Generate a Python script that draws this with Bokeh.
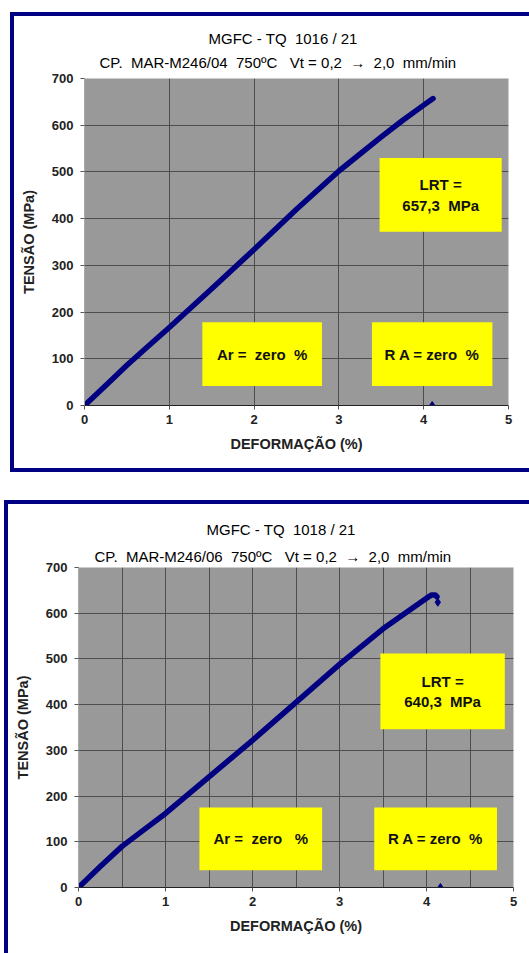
from bokeh.plotting import figure
from bokeh.layouts import column
from bokeh.models import BoxAnnotation, Label, FixedTicker, Range1d, Title
from bokeh.embed import file_html
from bokeh.resources import INLINE

NB = "\u00a0"

# ---------------- data ----------------
# panel 1 : MGFC - TQ 1016/21
title1_a = "MGFC - TQ" + NB + " 1016 / 21"
title1_b = "CP." + NB + " MAR-M246/04" + NB + " 750ºC" + NB + NB + " Vt = 0,2" + NB + " →" + NB + " 2,0" + NB + " mm/min"
strain_1 = [0.0, 0.25, 0.5, 0.75, 1.0, 1.5, 2.0, 2.5, 3.0, 3.5, 3.75, 4.0, 4.11]
stress_1 = [0, 43, 86, 127, 167, 250, 334, 420, 502, 575, 610, 643, 657]
break_1_x = [4.10]
break_1_y = [0]
lrt_1 = ["LRT =", "657,3" + NB + " MPa"]
ar_1 = "Ar =" + NB + " zero" + NB + " %"
ra_1 = "R A = zero" + NB + " %"

# panel 2 : MGFC - TQ 1018/21
title2_a = "MGFC - TQ" + NB + " 1018 / 21"
title2_b = "CP." + NB + " MAR-M246/06" + NB + " 750ºC" + NB + NB + " Vt = 0,2" + NB + " →" + NB + " 2,0" + NB + " mm/min"
strain_2 = [0.0, 0.25, 0.5, 0.75, 1.0, 1.5, 2.0, 2.5, 3.0, 3.5, 4.0, 4.06, 4.10, 4.12]
stress_2 = [0, 46, 90, 126, 162, 242, 322, 405, 488, 566, 633, 640, 640, 636]
break_2_x = [4.13, 4.16]
break_2_y = [624, 0]
lrt_2 = ["LRT =", "640,3" + NB + " MPa"]
ar_2 = "Ar =" + NB + " zero" + NB + NB + " %"
ra_2 = "R A = zero" + NB + " %"

x_ticks = [0, 1, 2, 3, 4, 5]
y_ticks = [0, 100, 200, 300, 400, 500, 600, 700]
x_grid_1 = [0, 1, 2, 3, 4, 5]
x_grid_2 = [0, 0.5, 1, 1.5, 2, 2.5, 3, 3.5, 4, 4.5, 5]

FONT = "Liberation Sans"
NAVY = "#000083"
CURVE = "#000080"
GREY = "#999999"
YELLOW = "#ffff00"


def panel(strain, stress, bx, by, ta, tb, lrt, ar, ra, xgrid, geo, boxes, title_geo):
    (ml, mt, fw, fh, mr, mb, margin, border) = geo
    p = figure(
        frame_width=fw, frame_height=fh,
        min_border_left=ml, min_border_top=mt, min_border_right=mr, min_border_bottom=mb,
        x_range=Range1d(0, 5), y_range=Range1d(0, 700),
        output_backend="svg", toolbar_location=None,
        background_fill_color=GREY, border_fill_color="white",
    )
    p.margin = margin
    p.styles = border
    p.outline_line_color = None

    p.xgrid.ticker = FixedTicker(ticks=xgrid)
    p.ygrid.ticker = FixedTicker(ticks=y_ticks)
    for g in (p.xgrid, p.ygrid):
        g.grid_line_color = "#4d4d4d"
        g.grid_line_width = 1

    p.xaxis.ticker = FixedTicker(ticks=x_ticks)
    p.yaxis.ticker = FixedTicker(ticks=y_ticks)
    for ax in (p.xaxis[0], p.yaxis[0]):
        ax.minor_tick_line_color = None
        ax.major_tick_in = 0
        ax.major_tick_out = 4
        ax.major_tick_line_color = "#555555"
        ax.major_label_text_font = FONT
        ax.major_label_text_font_style = "bold"
        ax.major_label_text_font_size = "13px"
        ax.major_label_text_color = "#222222"
        ax.axis_label_text_font = FONT
        ax.axis_label_text_font_style = "bold"
        ax.axis_label_text_font_size = "14.5px"
        ax.axis_label_text_color = "#222222"
    p.xaxis.axis_label = "DEFORMAÇÃO (%)"
    p.yaxis.axis_label = "TENSÃO (MPa)"
    p.xaxis.axis_line_color = "#222222"
    p.yaxis.axis_line_color = "#aaaaaa"
    p.xaxis.major_label_standoff = 5
    p.yaxis.major_label_standoff = 7
    p.xaxis.axis_label_standoff = 9
    p.yaxis.axis_label_standoff = 12

    # titles (nearest the frame first)
    (off_a, off_b, st_a, st_b) = title_geo
    p.add_layout(Title(text=tb, align="left", offset=off_b, standoff=st_b,
                       text_font=FONT, text_font_size="15px", text_font_style="normal",
                       text_color="#000000"), "above")
    p.add_layout(Title(text=ta, align="left", offset=off_a, standoff=st_a,
                       text_font=FONT, text_font_size="15px", text_font_style="normal",
                       text_color="#000000"), "above")

    # yellow annotation boxes
    (lrt_box, ar_box, ra_box) = boxes
    for (l, r, b, t) in (lrt_box, ar_box, ra_box):
        p.add_layout(BoxAnnotation(left=l, right=r, bottom=b, top=t,
                                   fill_color=YELLOW, fill_alpha=1.0, line_color=None,
                                   level="underlay"))

    def lab(x, y, txt, size):
        p.add_layout(Label(x=x, y=y, text=txt, text_font=FONT, text_font_size=size,
                           text_font_style="bold",
                           text_align="center", text_baseline="middle", text_color="#111111"))

    cx = (lrt_box[0] + lrt_box[1]) / 2
    cy = (lrt_box[2] + lrt_box[3]) / 2
    lab(cx, cy + 22, lrt[0], "15px")
    lab(cx, cy - 22, lrt[1], "15px")
    lab((ar_box[0] + ar_box[1]) / 2, (ar_box[2] + ar_box[3]) / 2, ar, "15px")
    lab((ra_box[0] + ra_box[1]) / 2, (ra_box[2] + ra_box[3]) / 2, ra, "15px")

    p.line(strain, stress, line_color=CURVE, line_width=5.5, line_cap="round", line_join="round")
    p.scatter(bx, by, marker="diamond", size=8, fill_color=CURVE, line_color=CURVE)
    return p


p1 = panel(strain_1, stress_1, break_1_x, break_1_y, title1_a, title1_b, lrt_1, ar_1, ra_1,
           x_grid_1,
           (69, 62, 420, 319, 26, 71, (12, 0, 0, 10),
            {"border-left": f"4px solid {NAVY}", "border-top": f"4px solid {NAVY}",
             "border-bottom": f"4px solid {NAVY}"}),
           ((3.48, 4.92, 372, 530), (1.39, 2.80, 42, 178), (3.39, 4.81, 42, 178)),
           (124, 15, -4, 15))

p2 = panel(strain_2, stress_2, break_2_x, break_2_y, title2_a, title2_b, lrt_2, ar_2, ra_2,
           x_grid_2,
           (70, 63, 431, 316, 20, 70, (28, 0, 0, 4),
            {"border-left": f"4px solid {NAVY}", "border-top": f"4px solid {NAVY}"}),
           ((3.47, 4.90, 346, 512), (1.39, 2.80, 38, 175), (3.40, 4.81, 38, 175)),
           (128, 16, 10, 6))

layout = column(p1, p2, spacing=0)
open("out.html", "w").write(file_html(layout, INLINE))
